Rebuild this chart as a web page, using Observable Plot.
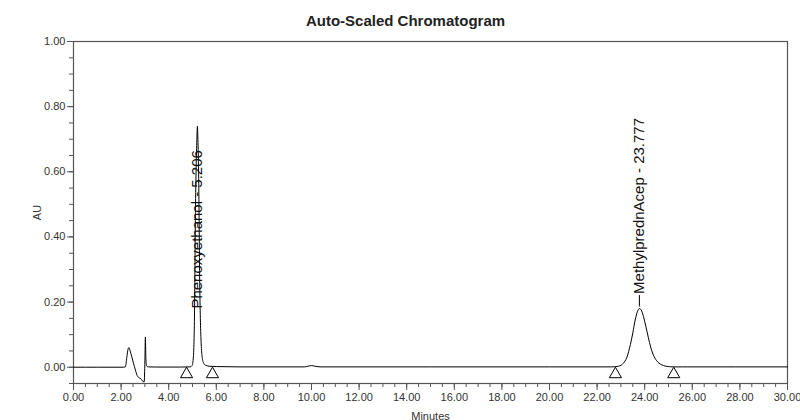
<!DOCTYPE html>
<html><head><meta charset="utf-8">
<script src="https://cdn.jsdelivr.net/npm/d3@7"></script>
<script src="https://cdn.jsdelivr.net/npm/@observablehq/plot@0.6"></script>
<style>
body{margin:0;background:#fff;}
#chart svg{display:block;}
</style></head><body><div id="chart"></div>
<script>
// Detector trace (minutes, AU)
const time = [0.00, 1.00, 2.10, 2.18, 2.24, 2.29, 2.33, 2.38, 2.45, 2.52, 2.60, 2.67, 2.75, 2.84, 2.92, 2.97, 3.00, 3.02, 3.04, 3.07, 3.15, 3.50, 4.50, 4.90,
  4.98, 5.03, 5.06, 5.08, 5.10, 5.12, 5.15, 5.18, 5.206, 5.23, 5.26, 5.28, 5.30, 5.33, 5.36, 5.40, 5.46, 5.55, 5.70, 6.00, 7.00,
  9.70, 9.85, 10.00, 10.15, 10.40, 15.00, 20.00, 22.60,
  22.90, 23.10, 23.25, 23.40, 23.50, 23.60, 23.70, 23.777, 23.85, 23.95, 24.05, 24.15, 24.25, 24.35, 24.50, 24.70, 24.90, 25.20, 25.60, 30.00];
const au = [0.000, 0.000, 0.000, 0.001, 0.030, 0.055, 0.060, 0.050, 0.032, 0.012, -0.008, -0.025, -0.032, -0.036, -0.044, -0.045, 0.020, 0.093, 0.030, 0.004, 0.001, 0.0005, 0.0005, 0.001,
  0.005, 0.025, 0.070, 0.140, 0.280, 0.450, 0.600, 0.690, 0.740, 0.690, 0.580, 0.440, 0.280, 0.150, 0.080, 0.035, 0.014, 0.006, 0.003, 0.002, 0.001,
  0.001, 0.003, 0.005, 0.003, 0.001, 0.001, 0.001, 0.001,
  0.003, 0.012, 0.030, 0.070, 0.105, 0.145, 0.172, 0.180, 0.176, 0.155, 0.125, 0.092, 0.062, 0.040, 0.020, 0.008, 0.003, 0.001, 0.001, 0.001];

const peakNames = ["Phenoxyethanol", "MethylprednAcep"];
const peakTimes = [5.206, 23.777];
const labelAU = [0.18, 0.225];
const markerTimes = [4.75, 5.84, 22.77, 25.22];

const xTickValues = [0, 2, 4, 6, 8, 10, 12, 14, 16, 18, 20, 22, 24, 26, 28, 30];
const yTickValues = [0, 0.2, 0.4, 0.6, 0.8, 1.0];
const title = "Auto-Scaled Chromatogram";
const xLabel = "Minutes";
const yLabel = "AU";

const signal = time.map((t, i) => ({t, v: au[i]}));
const peaks = peakNames.map((n, i) => ({
  t: peakTimes[i], y: labelAU[i],
  apex: au[time.indexOf(peakTimes[i])],
  label: `${n} - ${peakTimes[i].toFixed(3)}`
}));
const leaders = peaks.filter(p => p.y > p.apex);
const markers = markerTimes.map(t => ({t, v: 0}));
const xMinor = d3.range(0, 30.001, 0.5);
const yMinor = d3.range(-0.05, 1.0001, 0.05);

const font = "'Liberation Sans', Arial, Helvetica, sans-serif";
const axisColor = "#555";

const chart = Plot.plot({
  width: 800, height: 420,
  marginLeft: 73, marginRight: 13, marginTop: 41, marginBottom: 37,
  style: {fontFamily: font, fontSize: "11px", color: "#333", background: "#fff"},
  x: {domain: [0, 30]},
  y: {domain: [-0.05, 1.0]},
  marks: [
    Plot.axisX({ticks: xMinor, tickSize: 4, tickFormat: () => "", label: null, stroke: axisColor}),
    Plot.axisX({ticks: xTickValues, tickSize: 7, tickPadding: 3, tickFormat: d => d.toFixed(2), label: xLabel, labelArrow: "none", labelAnchor: "center", labelOffset: 36, stroke: axisColor, fill: "#333"}),
    Plot.axisY({ticks: yMinor, tickSize: 4, tickFormat: () => "", label: null, stroke: axisColor}),
    Plot.axisY({ticks: yTickValues, tickSize: 6, tickPadding: 2, tickFormat: d => d.toFixed(2), label: yLabel, labelArrow: "none", labelAnchor: "center", labelOffset: 40, stroke: axisColor, fill: "#333"}),
    Plot.frame({stroke: axisColor, strokeWidth: 1.2}),
    Plot.line(signal, {x: "t", y: "v", stroke: "#000", strokeWidth: 1, curve: "monotone-x"}),
    Plot.dot(markers, {x: "t", y: "v", symbol: "triangle", r: 4.5, dy: 7, stroke: "#000", fill: "none", strokeWidth: 1}),
    Plot.ruleX(leaders, {x: "t", y1: d => d.y - 0.04, y2: d => d.y - 0.005, stroke: "#000", strokeWidth: 1}),
    Plot.text(peaks, {x: "t", y: "y", text: "label", rotate: -90, textAnchor: "start", fontSize: 15, fill: "#111"}),
    Plot.text([title], {frameAnchor: "top", dy: -26, dx: -25, fontWeight: "bold", fontSize: 15, fill: "#222"})
  ]
});
document.getElementById("chart").appendChild(chart);
</script>
</body></html>
